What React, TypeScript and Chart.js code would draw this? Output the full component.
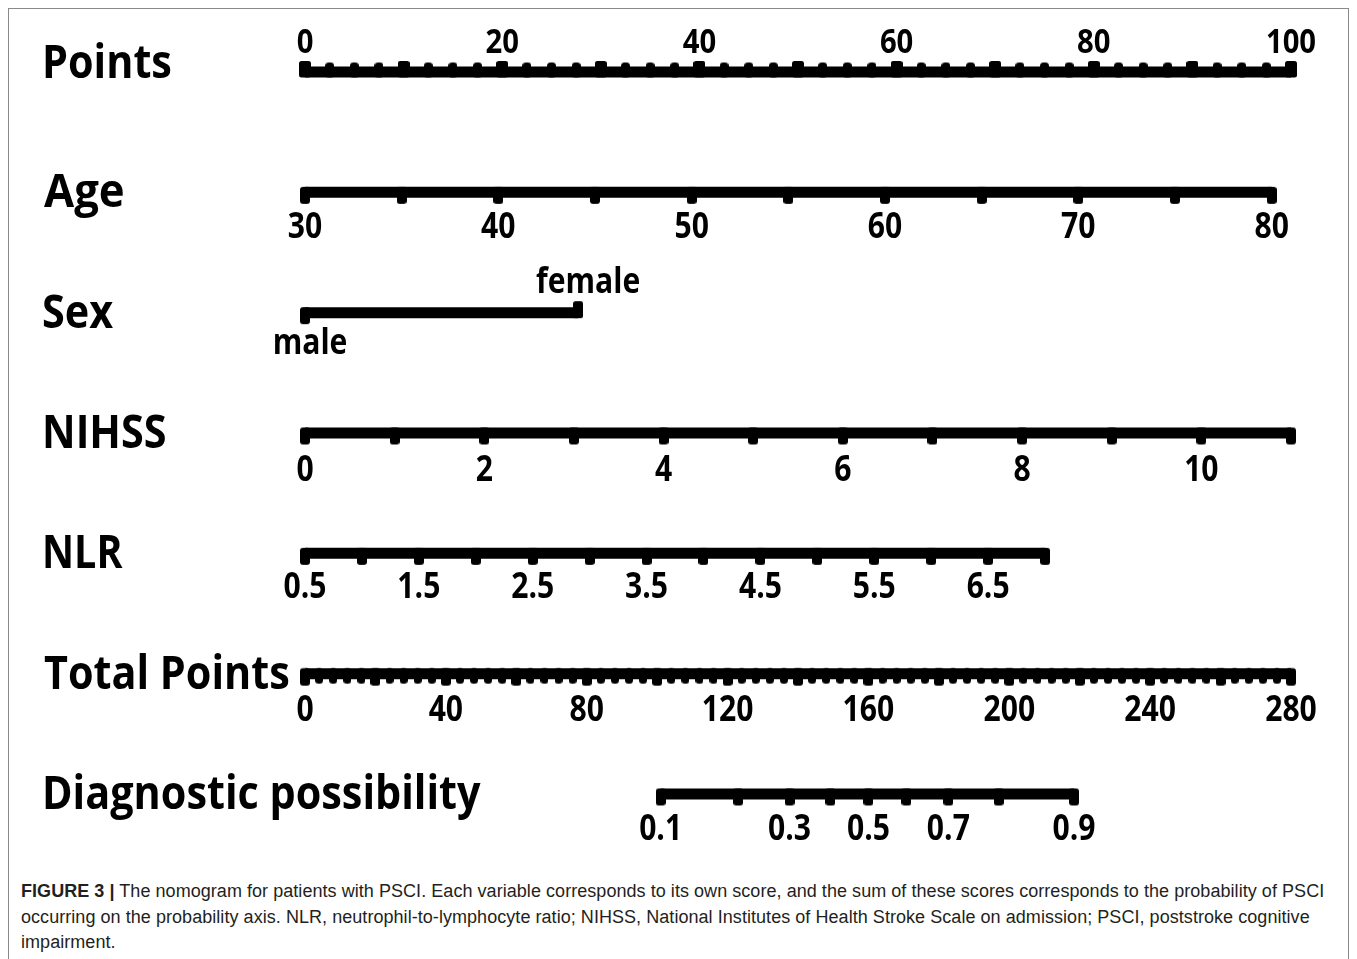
import React, { useEffect, useRef } from "react";
import { Chart, registerables } from "chart.js";
Chart.register(...registerables);

// ---------- data ----------
const rowTitles = ["Points", "Age", "Sex", "NIHSS", "NLR", "Total Points", "Diagnostic possibility"];

// Points axis
const pointsAxis = [0, 100];
const pointsLabels = [0, 20, 40, 60, 80, 100];
const pointsMinorStep = 2.5;
const pointsMajorStep = 10;

// Age (value at 0 points, value at 100 points)
const ageAxis = [30, 81];
const ageRange = [30, 80];
const ageTickStep = 5;
const ageLabels = [30, 40, 50, 60, 70, 80];

// Sex (points per level)
const sexLevels = ["male", "female"];
const sexPoints = [0, 27.7];

// NIHSS
const nihssAxis = [0, 11];
const nihssRange = [0, 11];
const nihssTickStep = 1;
const nihssLabels = [0, 2, 4, 6, 8, 10];

// NLR
const nlrAxis = [0.5, 9.16];
const nlrRange = [0.5, 7];
const nlrTickStep = 0.5;
const nlrLabels = [0.5, 1.5, 2.5, 3.5, 4.5, 5.5, 6.5];

// Total points
const totalAxis = [0, 280];
const totalLabels = [0, 40, 80, 120, 160, 200, 240, 280];
const totalMinorStep = 4;
const totalMajorStep = 20;

// Diagnostic possibility (probability -> total points)
const diagProbs = [0.1, 0.2, 0.3, 0.4, 0.5, 0.6, 0.7, 0.8, 0.9];
const diagTotalPoints = [101, 123, 137.6, 149.2, 160, 170.8, 182.7, 197, 218.4];
const diagLabels = [0.1, 0.3, 0.5, 0.7, 0.9];

const captionBold = "FIGURE 3 |";
const captionLines = [
  " The nomogram for patients with PSCI. Each variable corresponds to its own score, and the sum of these scores corresponds to the probability of PSCI",
  "occurring on the probability axis. NLR, neutrophil-to-lymphocyte ratio; NIHSS, National Institutes of Health Stroke Scale on admission; PSCI, poststroke cognitive",
  "impairment.",
];

// ---------- helpers ----------
function range(a: number, b: number, step: number) {
  const out: number[] = [];
  const n = Math.round((b - a) / step);
  for (let i = 0; i <= n; i++) out.push(+(a + i * step).toFixed(6));
  return out;
}

const HALF_BAR = 5.5;
function makeTick(w: number, len: number, dir: 1 | -1, radius: number) {
  const H = Math.ceil(2 * (HALF_BAR + len)) + 2;
  const c = document.createElement("canvas");
  c.width = w;
  c.height = H;
  const g = c.getContext("2d")!;
  g.fillStyle = "#000";
  const mid = H / 2;
  const top = dir === 1 ? mid - HALF_BAR : mid - HALF_BAR - len;
  const h = 2 * HALF_BAR + len;
  g.beginPath();
  (g as any).roundRect(0, top, w, h, radius);
  g.fill();
  return c;
}

function drawText(ctx: CanvasRenderingContext2D, text: string, x: number, y: number, size: number, align: CanvasTextAlign, sx: number) {
  ctx.save();
  ctx.font = `700 ${size}px "Open Sans"`;
  ctx.textAlign = align;
  ctx.textBaseline = "alphabetic";
  ctx.fillStyle = "#000";
  ctx.translate(x, y);
  ctx.scale(sx, 1);
  ctx.fillText(text, 0, 0);
  ctx.restore();
}

const CW = 1339;
const CH = 870;

export default function App() {
  const ref = useRef<HTMLCanvasElement | null>(null);

  useEffect(() => {
    document.body.style.overflow = "hidden";
    const canvas = ref.current!;
    const tickUpMinor = makeTick(9, 4, -1, 3.5);
    const tickUpMajor = makeTick(12, 5.5, -1, 2.5);
    const tickDown = makeTick(10, 6, 1, 3);
    const tickUp = makeTick(10, 6, -1, 2.5);
    const tickDownMinor = makeTick(8, 4.5, 1, 3.5);
    const tickDownMajor = makeTick(10, 6.5, 1, 3);

    const bar = (row: number, xAxisID: string, a: number, b: number) => ({
      type: "line" as const,
      xAxisID,
      data: [{ x: a, y: row }, { x: b, y: row }],
      borderColor: "#000",
      borderWidth: 2 * HALF_BAR,
      borderCapStyle: "butt" as const,
      pointRadius: 0,
      clip: false as any,
      order: 2,
    });
    const ticks = (row: number, xAxisID: string, xs: number[], img: HTMLCanvasElement) => ({
      type: "scatter" as const,
      xAxisID,
      data: xs.map((x) => ({ x, y: row })),
      pointStyle: img as any,
      pointRadius: 6,
      clip: false as any,
      order: 1,
    });

    const pointsMajor = range(pointsAxis[0], pointsAxis[1], pointsMajorStep);
    const pointsMinor = range(pointsAxis[0], pointsAxis[1], pointsMinorStep).filter((v) => !pointsMajor.includes(v));
    const totalMajor = range(totalAxis[0], totalAxis[1], totalMajorStep);
    const totalMinor = range(totalAxis[0], totalAxis[1], totalMinorStep).filter((v) => !totalMajor.includes(v));

    const datasets: any[] = [
      bar(0, "xPts", pointsAxis[0], pointsAxis[1]),
      ticks(0, "xPts", pointsMinor, tickUpMinor),
      ticks(0, "xPts", pointsMajor, tickUpMajor),
      bar(1, "xAge", ageRange[0], ageRange[1]),
      ticks(1, "xAge", range(ageRange[0], ageRange[1], ageTickStep), tickDown),
      bar(2, "xPts", sexPoints[0], sexPoints[1]),
      ticks(2, "xPts", [sexPoints[0]], tickDown),
      ticks(2, "xPts", [sexPoints[1]], tickUp),
      bar(3, "xNihss", nihssRange[0], nihssRange[1]),
      ticks(3, "xNihss", range(nihssRange[0], nihssRange[1], nihssTickStep), tickDown),
      bar(4, "xNlr", nlrRange[0], nlrRange[1]),
      ticks(4, "xNlr", range(nlrRange[0], nlrRange[1], nlrTickStep), tickDown),
      bar(5, "xTot", totalAxis[0], totalAxis[1]),
      ticks(5, "xTot", totalMinor, tickDownMinor),
      ticks(5, "xTot", totalMajor, tickDownMajor),
      bar(6, "xTot", diagTotalPoints[0], diagTotalPoints[diagTotalPoints.length - 1]),
      ticks(6, "xTot", diagTotalPoints, tickDown),
    ];

    const textPlugin = {
      id: "nomoText",
      afterDatasetsDraw(chart: any) {
        const ctx = chart.ctx as CanvasRenderingContext2D;
        const ys = chart.scales.y;
        const rowY = (r: number) => ys.getPixelForValue(r);
        const px = (id: string, v: number) => chart.scales[id].getPixelForValue(v);
        const TX = 33;
        const TS = 47;
        rowTitles.forEach((t, i) => {
          const sx = t === "Age" ? 0.93 : t === "NLR" ? 0.84 : 0.88;
          drawText(ctx, t, TX + (t === "Age" || t === "Total Points" ? 2 : 0), rowY(i) + (i === 0 ? 6 : 15), TS, "left", sx);
        });
        const LS = 35;
        const LSX = 0.86;
        pointsLabels.forEach((v) => drawText(ctx, String(v), px("xPts", v), rowY(0) - 19, 34, "center", LSX));
        ageLabels.forEach((v) => drawText(ctx, String(v), px("xAge", v), rowY(1) + 46, LS, "center", LSX));
        drawText(ctx, sexLevels[1], px("xPts", sexPoints[1]) + 10, rowY(2) - 20, LS, "center", LSX);
        drawText(ctx, sexLevels[0], px("xPts", sexPoints[0]) + 5, rowY(2) + 41, LS, "center", LSX);
        nihssLabels.forEach((v) => drawText(ctx, String(v), px("xNihss", v), rowY(3) + 48, LS, "center", LSX));
        nlrLabels.forEach((v) => drawText(ctx, String(v), px("xNlr", v), rowY(4) + 45, LS, "center", LSX));
        totalLabels.forEach((v) => drawText(ctx, String(v), px("xTot", v), rowY(5) + 47, LS, "center", LSX));
        diagLabels.forEach((p) => {
          const i = diagProbs.indexOf(p);
          drawText(ctx, String(p), px("xTot", diagTotalPoints[i]), rowY(6) + 46, LS, "center", LSX);
        });
      },
    };

    const hiddenX = (min: number, max: number) => ({ type: "linear" as const, min, max, display: false, axis: "x" as const });

    const chart = new Chart(canvas, {
      type: "scatter",
      data: { datasets },
      options: {
        animation: false,
        responsive: false,
        events: [],
        layout: { padding: { left: 296, right: 57, top: 63, bottom: 85 } },
        plugins: { legend: { display: false }, tooltip: { enabled: false } },
        scales: {
          xPts: hiddenX(pointsAxis[0], pointsAxis[1]),
          xAge: hiddenX(ageAxis[0], ageAxis[1]),
          xNihss: hiddenX(nihssAxis[0], nihssAxis[1]),
          xNlr: hiddenX(nlrAxis[0], nlrAxis[1]),
          xTot: hiddenX(totalAxis[0], totalAxis[1]),
          y: { type: "linear", min: 0, max: rowTitles.length - 1, reverse: true, display: false },
        },
      } as any,
      plugins: [textPlugin],
    });
    return () => chart.destroy();
  }, []);

  return (
    <div
      style={{
        position: "relative",
        width: CW,
        height: 970,
        borderTop: "1px solid #8a8a8a",
        borderLeft: "1px solid #8a8a8a",
        borderRight: "1px solid #8a8a8a",
        background: "#fff",
      }}
    >
      <canvas ref={ref} width={CW} height={CH} style={{ display: "block", width: CW, height: CH }} />
      <div
        style={{
          position: "absolute",
          left: 12,
          top: 870,
          fontFamily: '"Liberation Sans", Arial, sans-serif',
          fontSize: 18,
          letterSpacing: "0.05px",
          lineHeight: "25.5px",
          color: "#231f20",
          whiteSpace: "nowrap",
        }}
      >
        <b>{captionBold}</b>
        {captionLines[0]}
        <br />
        {captionLines[1]}
        <br />
        {captionLines[2]}
      </div>
    </div>
  );
}
